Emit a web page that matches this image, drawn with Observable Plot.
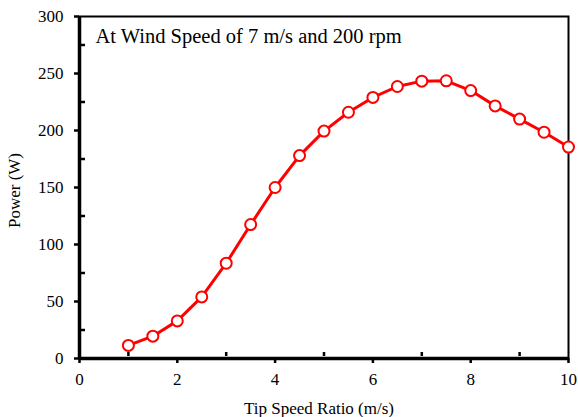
<!DOCTYPE html>
<html>
<head>
<meta charset="utf-8">
<script src="https://cdn.jsdelivr.net/npm/d3@7"></script>
<script src="https://cdn.jsdelivr.net/npm/@observablehq/plot@0.6"></script>
<style>
  html, body { margin: 0; padding: 0; background: white; }
</style>
</head>
<body>
<div id="chart"></div>
<script>
const tipSpeedRatio = [1, 1.5, 2, 2.5, 3, 3.5, 4, 4.5, 5, 5.5, 6, 6.5, 7, 7.5, 8, 8.5, 9, 9.5, 10];
const powerW = [11.5, 19.6, 33, 54, 83.6, 117.5, 150, 178, 199.5, 216, 229, 238.6, 243.3, 243.6, 235, 221.6, 210, 198.5, 185.5];
const xMajorTicks = [0, 2, 4, 6, 8, 10];
const xMinorTicks = [1, 3, 5, 7, 9];
const yMajorTicks = [0, 50, 100, 150, 200, 250, 300];
const yMinorTicks = [25, 75, 125, 175, 225, 275];
const titleText = "At Wind Speed of 7 m/s and 200 rpm";
const xLabel = "Tip Speed Ratio (m/s)";
const yLabel = "Power (W)";

const serif = "'Liberation Serif', 'DejaVu Serif', serif";
const data = tipSpeedRatio.map((x, i) => ({x, y: powerW[i]}));

const chart = Plot.plot({
  width: 578,
  height: 417,
  marginLeft: 79,
  marginRight: 10,
  marginTop: 16,
  marginBottom: 59,
  style: {fontFamily: serif, fontSize: "16px", background: "white", color: "black"},
  x: {domain: [0, 10]},
  y: {domain: [0, 300]},
  marks: [
    Plot.frame({stroke: "black", strokeWidth: 2}),
    Plot.axisX({ticks: xMajorTicks, tickSize: 5, tickPadding: 9, label: null, fontSize: 17, fontFamily: serif, stroke: "black", fill: "black", strokeWidth: 2.5}),
    Plot.axisX({ticks: xMinorTicks, tickSize: 4, dy: -6, text: null, label: null, stroke: "black", strokeWidth: 2.5}),
    Plot.axisY({ticks: yMajorTicks, tickSize: 5, tickPadding: 11, label: null, fontSize: 17, fontFamily: serif, stroke: "black", fill: "black", strokeWidth: 2.5}),
    Plot.axisY({ticks: yMinorTicks, tickSize: 4, dx: 6, text: null, label: null, stroke: "black", strokeWidth: 2.5}),
    Plot.ruleY([0], {stroke: "black", strokeWidth: 3.5}),
    Plot.ruleX([0], {stroke: "black", strokeWidth: 3.5}),
    Plot.line(data, {x: "x", y: "y", stroke: "red", strokeWidth: 3}),
    Plot.dot(data, {x: "x", y: "y", r: 5.5, fill: "white", stroke: "red", strokeWidth: 2}),
    Plot.text([titleText], {text: d => d, frameAnchor: "top-left", dx: 16, dy: 12, lineAnchor: "top", textAnchor: "start", fontSize: 20.5, fontFamily: serif, fill: "black"}),
    Plot.text([xLabel], {text: d => d, frameAnchor: "bottom", dx: -5, dy: 50, lineAnchor: "middle", textAnchor: "middle", fontSize: 17, fontFamily: serif, fill: "black"}),
    Plot.text([yLabel], {text: d => d, frameAnchor: "left", dx: -65, dy: 3, rotate: -90, lineAnchor: "middle", textAnchor: "middle", fontSize: 17, fontFamily: serif, fill: "black"})
  ]
});
document.getElementById("chart").appendChild(chart);
</script>
</body>
</html>
